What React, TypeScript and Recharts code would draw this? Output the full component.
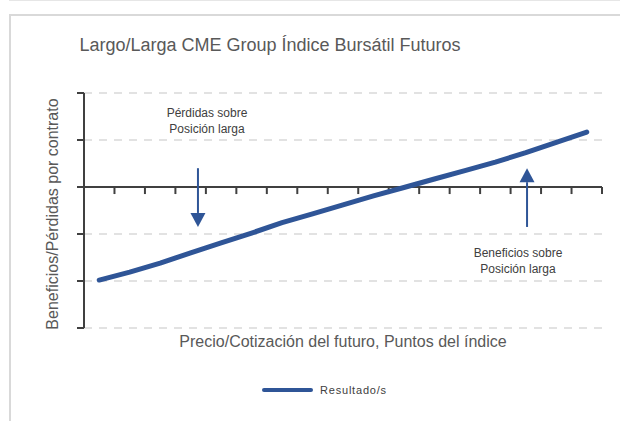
import { LineChart, Line, XAxis, YAxis, CartesianGrid, ReferenceLine, Legend } from "recharts";

// posiciones del futuro (centros de categoría) y resultado por contrato
const precio = [0.5, 1.5, 2.5, 3.5, 4.5, 5.5, 6.5, 7.5, 8.5, 9.5, 10.5, 11.5, 12.5, 13.5, 14.5, 15.5, 16.5];
const resultado = [-1.98, -1.81, -1.62, -1.4, -1.19, -0.98, -0.76, -0.57, -0.38, -0.19, -0.01, 0.17, 0.35, 0.53, 0.73, 0.95, 1.17];

const xTicks = [1, 2, 3, 4, 5, 6, 7, 8, 9, 10, 11, 12, 13, 14, 15, 16, 17];
const yTicks = [-3, -2, -1, 0, 1, 2];

const flechaPerdidas = { x: 3.74, from: 0.4, to: -0.85 };
const flechaBeneficios = { x: 14.54, from: -0.85, to: 0.4 };

const data = precio.map((p, i) => ({ precio: p, resultado: resultado[i] }));

const BLUE = "#2f5597";
const AXIS = "#404040";
const FONT = "'Liberation Sans', Arial, sans-serif";

const Arrow = (props: any) => {
  const { x1, y1, x2, y2 } = props;
  const dir = y2 > y1 ? 1 : -1;
  const head = 14;
  const half = 7.5;
  return (
    <g>
      <line x1={x1} y1={y1} x2={x2} y2={y2 - dir * head} stroke={BLUE} strokeWidth={2} />
      <polygon
        points={`${x2 - half},${y2 - dir * head} ${x2 + half},${y2 - dir * head} ${x2},${y2}`}
        fill={BLUE}
      />
    </g>
  );
};

const LegendContent = () => (
  <div style={{ display: "flex", alignItems: "center", fontFamily: FONT, fontSize: 11, letterSpacing: 0.8, color: "#404040", height: 12 }}>
    <div style={{ width: 51, height: 4, background: BLUE, borderRadius: 2, marginRight: 7 }} />
    <span>Resultado/s</span>
  </div>
);

export default function App() {
  return (
    <div style={{ position: "absolute", left: 0, top: 0, width: 620, height: 421, background: "#fff", overflow: "hidden" }}>
      <div style={{ position: "absolute", left: 9, top: 0, width: 611, height: 1, background: "#e6e6e6" }} />
      <div style={{ position: "absolute", left: 9, top: 14, width: 620, height: 420, borderLeft: "2px solid #d9d9d9", borderTop: "2px solid #d9d9d9" }} />
      <div style={{ position: "absolute", left: 0, top: 35, width: 540, textAlign: "center", fontFamily: FONT, fontSize: 18, color: "#595959" }}>
        Largo/Larga CME Group Índice Bursátil Futuros
      </div>
      <div style={{ position: "absolute", left: 53, top: 214, width: 300, transform: "translate(-50%, -50%) rotate(-90deg)", textAlign: "center", fontFamily: FONT, fontSize: 16, color: "#595959" }}>
        Beneficios/Pérdidas por contrato
      </div>
      <div style={{ position: "absolute", left: 143, top: 333, width: 400, textAlign: "center", fontFamily: FONT, fontSize: 16, color: "#595959" }}>
        Precio/Cotización del futuro, Puntos del índice
      </div>
      <div style={{ position: "absolute", left: 147, top: 105, width: 120, textAlign: "center", fontFamily: FONT, fontSize: 12, lineHeight: "16px", color: "#404040" }}>
        Pérdidas sobre<br />Posición larga
      </div>
      <div style={{ position: "absolute", left: 458, top: 245, width: 120, textAlign: "center", fontFamily: FONT, fontSize: 12, lineHeight: "16px", color: "#404040" }}>
        Beneficios sobre<br />Posición larga
      </div>
      <div style={{ position: "absolute", left: 0, top: 0 }}>
        <LineChart width={620} height={421} data={data} margin={{ top: 93, right: 18, bottom: 81, left: 64 }}>
          <CartesianGrid vertical={false} stroke="#d9d9d9" strokeWidth={1.5} strokeDasharray="8 7" />
          <XAxis dataKey="precio" type="number" domain={[0, 17]} ticks={xTicks} hide />
          <YAxis
            type="number"
            domain={[-3, 2]}
            ticks={yTicks}
            width={20}
            tick={() => <g />}
            tickSize={7}
            axisLine={{ stroke: AXIS, strokeWidth: 2 }}
            tickLine={{ stroke: AXIS, strokeWidth: 2 }}
          />
          <ReferenceLine y={0} stroke={AXIS} strokeWidth={2} />
          {xTicks.map((t) => (
            <ReferenceLine
              key={t}
              segment={[{ x: t, y: 0 }, { x: t, y: -0.15 }]}
              stroke={AXIS}
              strokeWidth={2}
            />
          ))}
          <ReferenceLine
            segment={[{ x: flechaPerdidas.x, y: flechaPerdidas.from }, { x: flechaPerdidas.x, y: flechaPerdidas.to }]}
            shape={Arrow}
          />
          <ReferenceLine
            segment={[{ x: flechaBeneficios.x, y: flechaBeneficios.from }, { x: flechaBeneficios.x, y: flechaBeneficios.to }]}
            shape={Arrow}
          />
          <Line
            type="linear"
            dataKey="resultado"
            stroke={BLUE}
            strokeWidth={5}
            strokeLinecap="round"
            strokeLinejoin="round"
            dot={false}
            isAnimationActive={false}
          />
          <Legend content={<LegendContent />} wrapperStyle={{ position: "absolute", left: 262, top: 384, width: "auto" }} />
        </LineChart>
      </div>
    </div>
  );
}
